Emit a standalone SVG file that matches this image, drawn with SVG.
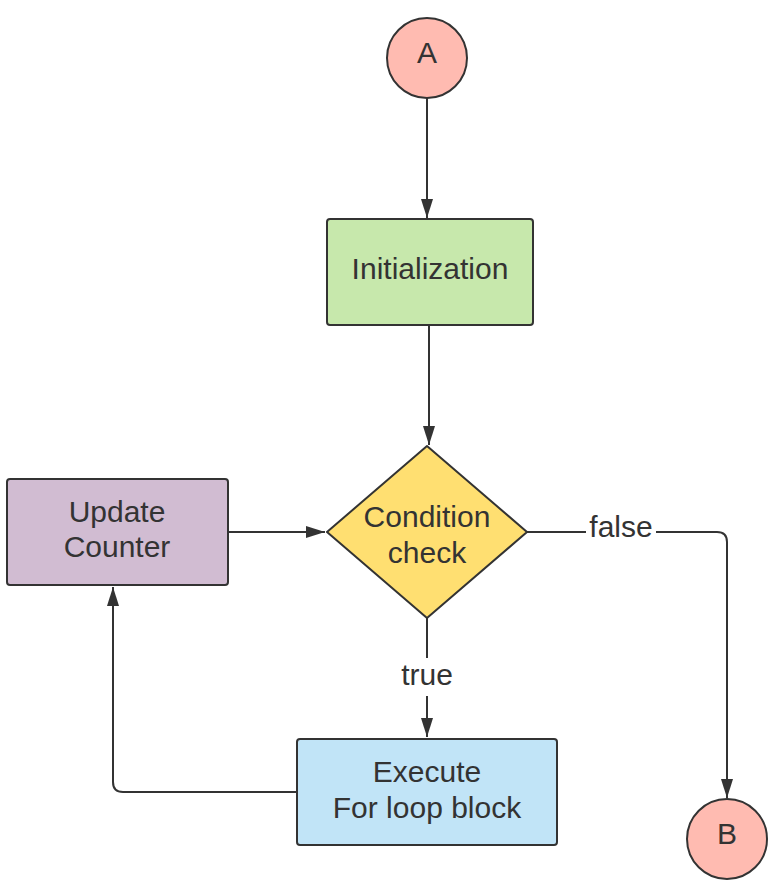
<svg xmlns="http://www.w3.org/2000/svg" width="777" height="889" viewBox="0 0 777 889">
<style>
.n{stroke:#333;stroke-width:2}
.t{font-family:"Liberation Sans",Arial,sans-serif;font-size:30px;fill:#333;text-anchor:middle}
.c{fill:none;stroke:#333;stroke-width:2}
</style>
<defs>
<marker id="ah" markerWidth="20" markerHeight="14" refX="19" refY="6" orient="auto" markerUnits="userSpaceOnUse">
<path d="M0,0 L19,6 L0,12 Z" fill="#333"/>
</marker>
</defs>
<rect width="777" height="889" fill="#fff"/>
<g id="connectors">
<path class="c" d="M427,98 V218" marker-end="url(#ah)"/>
<path class="c" d="M429,325 V445" marker-end="url(#ah)"/>
<path class="c" d="M228,532 H325" marker-end="url(#ah)"/>
<path class="c" d="M527,532 H717 Q727,532 727,542 V798" marker-end="url(#ah)"/>
<path class="c" d="M427,618 V737" marker-end="url(#ah)"/>
<path class="c" d="M297,792 H123 Q113,792 113,782 V587" marker-end="url(#ah)"/>
<rect x="586" y="512" width="70" height="34" fill="#fff"/>
<text class="t" x="621" y="537">false</text>
<rect x="398" y="658" width="58" height="38" fill="#fff"/>
<text class="t" x="427" y="685">true</text>
</g>
<g id="A">
<circle class="n" cx="427" cy="58" r="40" fill="#ffbbb1"/>
<text class="t" x="427" y="63">A</text>
</g>
<g id="init">
<rect class="n" x="327" y="219" width="206" height="106" rx="3" fill="#c7e8ac"/>
<text class="t" x="430" y="279">Initialization</text>
</g>
<g id="cond">
<path class="n" d="M427,446 L527,532 L427,618 L327,532 Z" fill="#ffdf71" stroke-linejoin="round"/>
<text class="t" x="427" y="527">Condition</text>
<text class="t" x="427" y="563">check</text>
</g>
<g id="update">
<rect class="n" x="7" y="479" width="221" height="106" rx="3" fill="#d1bcd2"/>
<text class="t" x="117" y="522">Update</text>
<text class="t" x="117" y="557">Counter</text>
</g>
<g id="execute">
<rect class="n" x="297" y="739" width="260" height="106" rx="3" fill="#c1e4f7"/>
<text class="t" x="427" y="782">Execute</text>
<text class="t" x="427" y="818">For loop block</text>
</g>
<g id="B">
<circle class="n" cx="727" cy="839" r="40" fill="#ffbbb1"/>
<text class="t" x="727" y="844">B</text>
</g>
</svg>
